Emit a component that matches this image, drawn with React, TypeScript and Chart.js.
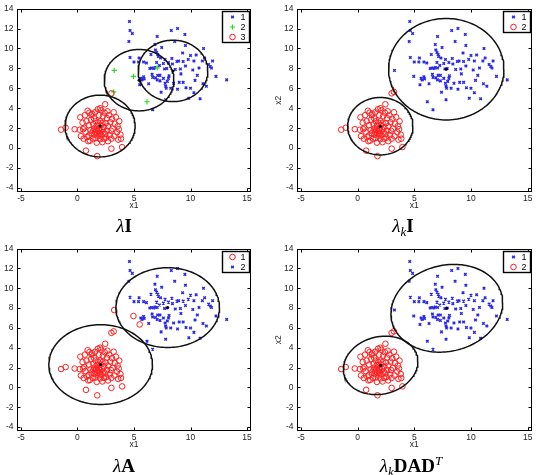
import React, { useEffect, useRef } from "react";
import { Chart, registerables } from "chart.js";

Chart.register(...registerables);

// Upper-right cloud of observations
const upperX = [
  4.6, 4.65, 4.85, 4.55, 4.65, 5.0, 5.4, 5.45, 5.85, 5.6, 5.7, 5.9, 5.85, 6.65, 6.5, 6.85, 7.05, 6.9, 7.0, 7.1,
  7.15, 7.35, 6.4, 6.55, 6.75, 6.6, 6.65, 7.1, 7.3, 6.9, 7.05, 7.3, 7.6, 7.0, 6.85, 7.6, 7.75, 7.9, 8.05, 7.7,
  7.75, 7.8, 7.85, 7.95, 7.8, 8.3, 8.05, 8.1, 8.85, 9.5, 9.55, 9.3, 9.35, 8.8, 8.95, 8.4, 8.65, 9.15, 9.0, 9.35,
  8.5, 9.6, 9.55, 9.1, 9.85, 10.3, 10.85, 10.0, 10.5, 10.3, 10.4, 10.2, 10.75, 10.0, 11.15, 11.05, 11.25, 11.6, 11.75, 11.85,
  11.95, 11.1, 11.4, 12.25, 13.2, 8.35, 7.45, 8.6, 6.3, 7.4, 8.85, 10.6, 6.1, 9.8, 8.25, 7.25,
];
const upperY = [
  12.7, 11.8, 11.5, 10.7, 9.1, 8.65, 8.65, 9.05, 8.65, 7.0, 6.85, 6.95, 7.15, 3.85, 9.4, 10.4, 11.2, 9.85, 9.6, 9.4,
  9.2, 9.05, 8.0, 8.05, 8.0, 7.4, 7.1, 7.3, 7.3, 7.05, 6.85, 6.75, 7.0, 8.6, 8.1, 8.5, 8.9, 8.0, 8.6, 7.95,
  6.5, 6.2, 6.0, 6.7, 4.85, 11.8, 7.0, 7.25, 12.0, 11.4, 10.3, 9.55, 8.7, 8.7, 8.75, 8.45, 7.9, 7.45, 6.6, 6.6,
  6.5, 6.05, 8.25, 7.95, 5.0, 5.55, 4.95, 9.3, 9.35, 8.75, 6.8, 7.85, 8.05, 6.0, 10.0, 8.75, 9.05, 8.4, 8.2, 8.05,
  8.75, 6.45, 6.2, 7.2, 6.85, 9.0, 10.1, 10.7, 6.45, 5.6, 5.9, 7.3, 8.55, 8.9, 6.0, 8.3,
];

// Lower-left cloud of observations
const lowerX = [
  -1.45, -1.05, -0.25, 0.25, 0.2, 0.3, 0.45, 0.5, 0.55, 0.6, 0.65, 0.7, 0.75, 0.8, 0.85, 0.9, 0.95, 1.0, 1.0, 1.05,
  1.1, 1.15, 1.2, 1.25, 1.3, 1.35, 1.4, 1.4, 1.45, 1.5, 1.5, 1.55, 1.55, 1.6, 1.6, 1.65, 1.7, 1.7, 1.75, 1.75,
  1.8, 1.8, 1.85, 1.85, 1.9, 1.9, 1.95, 2.0, 2.0, 2.0, 2.05, 2.1, 2.1, 2.15, 2.2, 2.2, 2.25, 2.3, 2.35, 2.35,
  2.4, 2.45, 2.45, 2.5, 2.55, 2.6, 2.6, 2.7, 2.7, 2.8, 2.85, 2.9, 2.95, 3.0, 3.0, 3.05, 3.1, 3.2, 3.25, 3.3,
  3.4, 3.5, 3.55, 3.6, 3.65, 3.7, 3.8, 3.85, 3.95, 2.0, 1.25, 2.65,
];
const lowerY = [
  1.85, 2.05, 1.9, 3.1, 1.85, 1.2, 2.55, 1.9, 0.95, 2.05, 3.3, 1.65, -0.25, 2.7, 1.1, 3.75, 0.7, 2.3, 1.25, 3.55,
  0.75, 1.8, 2.85, 1.5, 3.45, 0.95, 2.4, 1.75, 3.0, 1.35, 2.0, 1.6, 3.6, 2.7, 1.0, 1.85, 2.25, 0.55, -0.8, 1.45,
  3.9, 1.7, 2.55, 1.2, 1.95, 3.3, 1.5, 2.7, 0.9, 1.75, 2.3, 3.8, 1.3, 1.9, 2.55, 0.6, 3.2, 1.6, 2.1, 0.95,
  3.55, 4.4, 1.4, 2.5, 1.05, 3.0, 1.75, 2.2, 0.7, 3.3, 1.3, 2.6, 1.75, -0.05, 0.95, 2.95, 1.95, 3.6, 1.2, 2.45,
  3.1, 1.6, 2.2, 0.85, 1.9, 2.7, 1.35, 0.95, 0.1, 4.0, 3.3, 3.7,
];

// Observations lying between the two clouds
const bridgeX = [3.25, 4.95, 5.5, 6.15, 7.05, 3.0, 3.2];
const bridgeY = [7.8, 7.2, 6.35, 4.65, 8.05, 5.5, 5.65];

const xTickValues = [-5, 0, 5, 10, 15];
const yTickValues = [-4, -2, 0, 2, 4, 6, 8, 10, 12, 14];
const xLimits = [-5.35, 15.35];
const yLimits = [-4.4, 14];

// λI : equal spherical components
const eiiLabels = ["1", "2", "3"];
const eiiMarks = ["x", "+", "o"];
const eiiUpper = 0;
const eiiLower = 2;
const eiiBridge = [1, 1, 0, 1, 1, 2, 1];
const eiiCx = [8.45, 5.45, 2.0];
const eiiCy = [7.75, 6.82, 2.22];
const eiiSxx = [9.5, 9.5, 9.6];
const eiiSxy = [0, 0, 0];
const eiiSyy = [9.5, 9.5, 9.6];

// λ_k I : spherical components, varying volume
const viiLabels = ["1", "2"];
const viiMarks = ["x", "o"];
const viiUpper = 0;
const viiLower = 1;
const viiBridge = [0, 0, 0, 0, 0, 1, 1];
const viiCx = [7.82, 2.0];
const viiCy = [7.92, 2.2];
const viiSxx = [25.9, 8.3];
const viiSxy = [0, 0];
const viiSyy = [25.9, 8.3];

// λA : diagonal, equal shape and volume
const eeiLabels = ["1", "2"];
const eeiMarks = ["o", "x"];
const eeiUpper = 1;
const eeiLower = 0;
const eeiBridge = [0, 0, 0, 1, 1, 0, 0];
const eeiCx = [2.05, 7.98];
const eeiCy = [2.3, 8.05];
const eeiSxx = [21.0, 21.0];
const eeiSxy = [0, 0];
const eeiSyy = [16.2, 16.2];

// λ_k D A D^T : common orientation and shape, varying volume
const veeLabels = ["1", "2"];
const veeMarks = ["x", "o"];
const veeUpper = 0;
const veeLower = 1;
const veeBridge = [0, 0, 0, 0, 0, 1, 1];
const veeCx = [7.87, 2.03];
const veeCy = [7.98, 2.22];
const veeSxx = [24.3, 10.8];
const veeSxy = [2.8, 1.25];
const veeSyy = [19.6, 8.7];

const BLUE = "rgb(40,40,235)";
const RED = "rgb(255,30,30)";
const GREEN = "rgb(30,225,30)";
const TICK_FONT = { family: '"Liberation Sans", Arial, sans-serif', size: 8.5 };
const TEXT_COLOR = "#262626";

type Mark = "x" | "+" | "o";

function markColor(m: Mark) {
  return m === "x" ? BLUE : m === "+" ? GREEN : RED;
}

function markStyle(m: Mark) {
  if (m === "x") return { pointStyle: "crossRot", pointRadius: 1.8, pointBorderWidth: 1.4 };
  if (m === "+") return { pointStyle: "cross", pointRadius: 2.6, pointBorderWidth: 1.1 };
  return { pointStyle: "circle", pointRadius: 2.8, pointBorderWidth: 1 };
}

function drawMark(ctx: CanvasRenderingContext2D, m: Mark, x: number, y: number) {
  ctx.save();
  ctx.strokeStyle = markColor(m);
  ctx.beginPath();
  if (m === "x") {
    ctx.lineWidth = 1.4;
    const r = 1.3;
    ctx.moveTo(x - r, y - r);
    ctx.lineTo(x + r, y + r);
    ctx.moveTo(x - r, y + r);
    ctx.lineTo(x + r, y - r);
  } else if (m === "+") {
    ctx.lineWidth = 1.1;
    const r = 2.6;
    ctx.moveTo(x - r, y);
    ctx.lineTo(x + r, y);
    ctx.moveTo(x, y - r);
    ctx.lineTo(x, y + r);
  } else {
    ctx.lineWidth = 1;
    ctx.arc(x, y, 2.8, 0, Math.PI * 2);
  }
  ctx.stroke();
  ctx.restore();
}

function ellipsePoints(cx: number, cy: number, sxx: number, sxy: number, syy: number) {
  const a = Math.sqrt(sxx);
  const b = sxy / a;
  const c = Math.sqrt(syy - b * b);
  const pts: { x: number; y: number }[] = [];
  for (let i = 0; i <= 160; i++) {
    const t = (i / 160) * Math.PI * 2;
    const u = Math.cos(t);
    const v = Math.sin(t);
    pts.push({ x: cx + a * u, y: cy + b * u + c * v });
  }
  return pts;
}

interface Model {
  labels: string[];
  marks: Mark[];
  upper: number;
  lower: number;
  bridge: number[];
  cx: number[];
  cy: number[];
  sxx: number[];
  sxy: number[];
  syy: number[];
}

interface PanelLayout {
  left: number;
  top: number;
  width: number;
  height: number;
  axisWidth: number;
  padRight: number;
  padBottom: number;
}

function buildConfig(model: Model, lay: PanelLayout): any {
  const groups: { x: number; y: number }[][] = model.labels.map(() => []);
  upperX.forEach((x, i) => groups[model.upper].push({ x, y: upperY[i] }));
  lowerX.forEach((x, i) => groups[model.lower].push({ x, y: lowerY[i] }));
  bridgeX.forEach((x, i) => groups[model.bridge[i]].push({ x, y: bridgeY[i] }));

  const classSets = groups.map((pts, k) => {
    const m = model.marks[k];
    return {
      label: model.labels[k],
      data: pts,
      borderColor: markColor(m),
      backgroundColor: "rgba(0,0,0,0)",
      ...markStyle(m),
    };
  });

  const ellipseSets = model.cx.map((cx, k) => ({
    label: "ellipse" + k,
    data: ellipsePoints(cx, model.cy[k], model.sxx[k], model.sxy[k], model.syy[k]),
    showLine: true,
    borderColor: "#111",
    borderWidth: 1.5,
    pointRadius: 0,
    fill: false,
    tension: 0,
  }));

  const centreSet = {
    label: "centres",
    data: model.cx.map((x, k) => ({ x, y: model.cy[k] })),
    pointStyle: "circle",
    pointRadius: 1.5,
    pointBorderWidth: 0,
    backgroundColor: "#000",
    borderColor: "#000",
  };

  // first dataset is painted last, so it sits on top
  const datasets = [centreSet, ...ellipseSets, ...classSets.slice().reverse()];

  const framePlugin = {
    id: "frame",
    afterDraw(chart: any) {
      const { ctx, chartArea } = chart;
      const xs = chart.scales.x;
      const ys = chart.scales.y;
      ctx.save();
      ctx.strokeStyle = "#000";
      ctx.lineWidth = 1;
      const l = Math.round(chartArea.left) + 0.5;
      const r = Math.round(chartArea.right) - 0.5;
      const t = Math.round(chartArea.top) + 0.5;
      const b = Math.round(chartArea.bottom) - 0.5;
      ctx.strokeRect(l, t, r - l, b - t);
      ctx.beginPath();
      const len = 3;
      xTickValues.forEach((v) => {
        const px = Math.round(xs.getPixelForValue(v)) + 0.5;
        ctx.moveTo(px, b);
        ctx.lineTo(px, b - len);
        ctx.moveTo(px, t);
        ctx.lineTo(px, t + len);
      });
      yTickValues.forEach((v) => {
        const py = Math.round(ys.getPixelForValue(v)) + 0.5;
        ctx.moveTo(l, py);
        ctx.lineTo(l + len, py);
        ctx.moveTo(r, py);
        ctx.lineTo(r - len, py);
      });
      ctx.stroke();
      ctx.restore();
    },
  };

  const legendPlugin = {
    id: "boxLegend",
    afterDraw(chart: any) {
      const { ctx, chartArea } = chart;
      const w = 27;
      const rowH = 10;
      const h = model.labels.length * rowH + 1;
      const x0 = Math.round(chartArea.right - 2 - w) + 0.5;
      const y0 = Math.round(chartArea.top + 2) + 0.5;
      ctx.save();
      ctx.fillStyle = "#fff";
      ctx.fillRect(x0, y0, w, h);
      ctx.strokeStyle = "#000";
      ctx.lineWidth = 1.4;
      ctx.strokeRect(x0, y0, w, h);
      model.labels.forEach((lab, i) => {
        const cy = y0 + 5.5 + i * rowH;
        drawMark(ctx, model.marks[i], x0 + 10, cy);
        ctx.fillStyle = "#000";
        ctx.font = '9px "Liberation Sans", Arial, sans-serif';
        ctx.textAlign = "left";
        ctx.textBaseline = "middle";
        ctx.fillText(lab, x0 + 18, cy + 0.5);
      });
      ctx.restore();
    },
  };

  return {
    type: "scatter",
    data: { datasets },
    plugins: [framePlugin, legendPlugin],
    options: {
      animation: false,
      responsive: false,
      devicePixelRatio: 1,
      layout: { padding: { left: 0, right: lay.padRight, top: 5, bottom: lay.padBottom } },
      plugins: { legend: { display: false }, tooltip: { enabled: false } },
      scales: {
        x: {
          type: "linear",
          position: "bottom",
          min: xLimits[0],
          max: xLimits[1],
          afterBuildTicks: (s: any) => {
            s.ticks = xTickValues.map((v) => ({ value: v }));
          },
          afterFit: (s: any) => {
            s.height = 19;
          },
          grid: { display: false, drawTicks: false },
          border: { display: false },
          ticks: {
            font: TICK_FONT,
            color: TEXT_COLOR,
            padding: 1.5,
            maxRotation: 0,
            autoSkip: false,
            callback: (v: any) => String(v),
          },
          title: { display: true, text: "x1", font: TICK_FONT, color: TEXT_COLOR, padding: { top: 0, bottom: 0 } },
        },
        y: {
          type: "linear",
          position: "left",
          min: yLimits[0],
          max: yLimits[1],
          afterBuildTicks: (s: any) => {
            s.ticks = yTickValues.map((v) => ({ value: v }));
          },
          afterFit: (s: any) => {
            s.width = lay.axisWidth;
          },
          grid: { display: false, drawTicks: false },
          border: { display: false },
          ticks: {
            font: TICK_FONT,
            color: TEXT_COLOR,
            padding: 3.5,
            autoSkip: false,
            callback: (v: any) => String(v),
          },
          title: { display: true, text: "x2", font: TICK_FONT, color: TEXT_COLOR, padding: { top: 5.9, bottom: 0 } },
        },
      },
    },
  };
}

function Panel({ model, lay }: { model: Model; lay: PanelLayout }) {
  const ref = useRef<HTMLCanvasElement>(null);
  useEffect(() => {
    const chart = new Chart(ref.current as HTMLCanvasElement, buildConfig(model, lay));
    return () => chart.destroy();
  }, []);
  return (
    <canvas
      ref={ref}
      width={lay.width}
      height={lay.height}
      style={{ position: "absolute", left: lay.left, top: lay.top, width: lay.width, height: lay.height }}
    />
  );
}

const captionStyle = (cx: number, cy: number): React.CSSProperties => ({
  position: "absolute",
  left: cx - 80,
  width: 160,
  top: cy - 11,
  height: 22,
  lineHeight: "22px",
  textAlign: "center",
  fontFamily: '"Liberation Serif", "DejaVu Serif", serif',
  fontSize: 19,
  color: "#000",
  whiteSpace: "nowrap",
});

const subStyle: React.CSSProperties = { fontSize: 13, fontStyle: "italic", position: "relative", top: 4, lineHeight: 0 };
const supStyle: React.CSSProperties = { fontSize: 13, fontStyle: "italic", position: "relative", top: -7, lineHeight: 0 };

const models: Model[] = [
  { labels: eiiLabels, marks: eiiMarks as Mark[], upper: eiiUpper, lower: eiiLower, bridge: eiiBridge, cx: eiiCx, cy: eiiCy, sxx: eiiSxx, sxy: eiiSxy, syy: eiiSyy },
  { labels: viiLabels, marks: viiMarks as Mark[], upper: viiUpper, lower: viiLower, bridge: viiBridge, cx: viiCx, cy: viiCy, sxx: viiSxx, sxy: viiSxy, syy: viiSyy },
  { labels: eeiLabels, marks: eeiMarks as Mark[], upper: eeiUpper, lower: eeiLower, bridge: eeiBridge, cx: eeiCx, cy: eeiCy, sxx: eeiSxx, sxy: eeiSxy, syy: eeiSyy },
  { labels: veeLabels, marks: veeMarks as Mark[], upper: veeUpper, lower: veeLower, bridge: veeBridge, cx: veeCx, cy: veeCy, sxx: veeSxx, sxy: veeSxy, syy: veeSyy },
];

const layouts: PanelLayout[] = [
  { left: -14, top: 0, width: 282, height: 240, axisWidth: 31, padRight: 17, padBottom: 29 },
  { left: 268, top: 0, width: 269, height: 240, axisWidth: 29, padRight: 5, padBottom: 29 },
  { left: -14, top: 240, width: 282, height: 235, axisWidth: 31, padRight: 17, padBottom: 25 },
  { left: 268, top: 240, width: 269, height: 235, axisWidth: 29, padRight: 5, padBottom: 25 },
];

export default function App() {
  return (
    <div
      style={{
        position: "fixed",
        left: 0,
        top: 0,
        width: 537,
        height: 475,
        overflow: "hidden",
        background: "#fff",
      }}
    >
      {models.map((m, i) => (
        <Panel key={i} model={m} lay={layouts[i]} />
      ))}
      <div style={captionStyle(124, 226)}>
        <i>λ</i>
        <b>I</b>
      </div>
      <div style={captionStyle(403, 226)}>
        <i>λ</i>
        <span style={subStyle}>k</span>
        <b>I</b>
      </div>
      <div style={captionStyle(124, 466)}>
        <i>λ</i>
        <b>A</b>
      </div>
      <div style={captionStyle(411, 466)}>
        <i>λ</i>
        <span style={subStyle}>k</span>
        <b>DAD</b>
        <span style={supStyle}>T</span>
      </div>
    </div>
  );
}
